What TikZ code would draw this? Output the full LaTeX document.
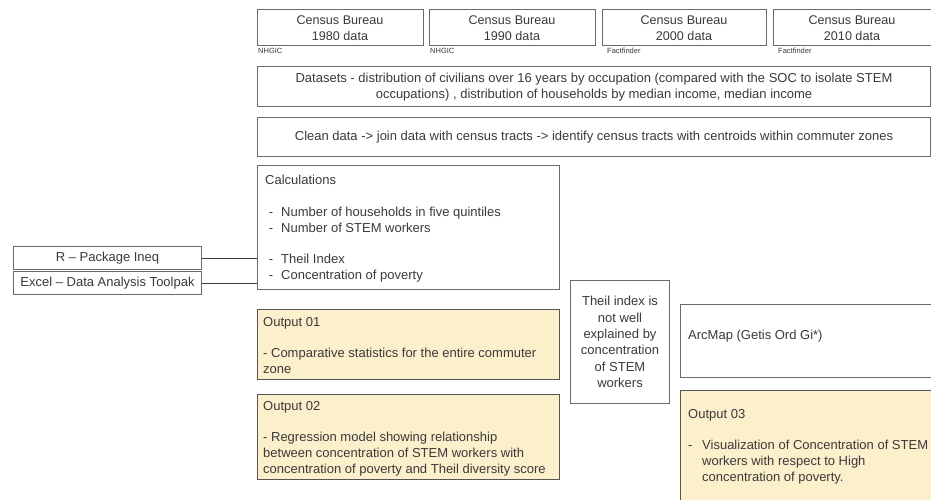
\documentclass[tikz,border=0pt]{standalone}
\usepackage{fontspec}
\setmainfont{Liberation Sans}
\definecolor{bord}{HTML}{6A6A6A}
\definecolor{txt}{HTML}{3A3A3A}
\definecolor{yel}{HTML}{FCEFCB}
\begin{document}
\begin{tikzpicture}[x=1pt,y=-1pt,
  box/.style={draw=bord,line width=1pt,rectangle,inner sep=0pt},
  ybox/.style={box,fill=yel,draw=bord!80!black},
  ctext/.style={text=txt,align=center,font=\fontsize{13}{16.3}\selectfont,inner sep=0pt},
  ltext/.style={text=txt,align=left,font=\fontsize{13}{15.8}\selectfont,inner sep=0pt,anchor=north west},
  small/.style={text=txt,font=\fontsize{7.5}{9}\selectfont,inner sep=0pt,anchor=west},
  conn/.style={draw=txt,line width=1pt}]
\path[use as bounding box,fill=white] (0,0) rectangle (931,500);
% census boxes
\node[box,minimum width=166,minimum height=36] (c1) at (340,28) {};
\node[box,minimum width=166,minimum height=36] (c2) at (512,28) {};
\node[box,minimum width=164,minimum height=36] (c3) at (684,28) {};
\node[box,minimum width=158,minimum height=36] (c4) at (852,28) {};
\node[ctext,font=\fontsize{12.6}{16.3}\selectfont] (t1) at (c1) {Census Bureau\\1980 data};
\node[ctext,font=\fontsize{12.6}{16.3}\selectfont] (t2) at (c2) {Census Bureau\\1990 data};
\node[ctext,font=\fontsize{12.6}{16.3}\selectfont] (t3) at (c3) {Census Bureau\\2000 data};
\node[ctext,font=\fontsize{12.6}{16.3}\selectfont] (t4) at (c4) {Census Bureau\\2010 data};
\node[small] (s1) at (258,51) {NHGIC};
\node[small] (s2) at (430,51) {NHGIC};
\node[small] (s3) at (607,51) {Factfinder};
\node[small] (s4) at (778,51) {Factfinder};
% datasets
\node[box,minimum width=673,minimum height=40] (ds) at (594,87) {};
\node[ctext] (dst) at (ds) {Datasets - distribution of civilians over 16 years by occupation (compared with the SOC to isolate STEM\\occupations) , distribution of households by median income, median income};
% clean
\node[box,minimum width=673,minimum height=38] (cl) at (594,137) {};
\node[ctext] (clt) at (cl) {Clean data -> join data with census tracts -> identify census tracts with centroids within commuter zones};
% calculations
\node[box,minimum width=302,minimum height=124,anchor=north west] (calc) at (257,165) {};
\node[ltext] (calct) at (265,175) {Calculations\\[15.8pt]
\makebox[16pt][l]{\ -}Number of households in five quintiles\\
\makebox[16pt][l]{\ -}Number of STEM workers\\[15.8pt]
\makebox[16pt][l]{\ -}Theil Index\\
\makebox[16pt][l]{\ -}Concentration of poverty};
% tools
\node[box,minimum width=188,minimum height=23,anchor=north west] (rb) at (13,246) {};
\node[box,minimum width=188,minimum height=23,anchor=north west] (eb) at (13,271) {};
\node[ctext] (rbt) at (rb) {R -- Package Ineq};
\node[ctext] (ebt) at (eb) {Excel -- Data Analysis Toolpak};
\draw[conn] (rb.east) -- (rb.east -| calc.west);
\draw[conn] (eb.east) -- (eb.east -| calc.west);
% outputs
\node[ybox,minimum width=302,minimum height=70,anchor=north west] (o1) at (257,309) {};
\node[ltext] (o1t) at (263,317) {Output 01\\[15.8pt]- Comparative statistics for the entire commuter\\zone};
\node[ybox,minimum width=302,minimum height=85,anchor=north west] (o2) at (257,394) {};
\node[ltext] (o2t) at (263,401) {Output 02\\[15.5pt]- Regression model showing relationship\\between concentration of STEM workers with\\concentration of poverty and Theil diversity score};
% theil
\node[box,minimum width=99,minimum height=123,anchor=north west] (th) at (570,280) {};
\node[ctext] (tht) at (th) {Theil index is\\not well\\explained by\\concentration\\of STEM\\workers};
% arcmap
\node[box,minimum width=255,minimum height=73,anchor=north west] (am) at (680,304) {};
\node[ltext,anchor=west] (amt) at (688,336) {ArcMap (Getis Ord Gi*)};
\node[ybox,minimum width=255,minimum height=115,anchor=north west] (o3) at (680,390) {};
\node[ltext] (o3t) at (688,409) {Output 03\\[15.8pt]
\makebox[14pt][l]{-}Visualization of Concentration of STEM\\
\makebox[14pt][l]{}workers with respect to High\\
\makebox[14pt][l]{}concentration of poverty.};
\end{tikzpicture}
\end{document}
